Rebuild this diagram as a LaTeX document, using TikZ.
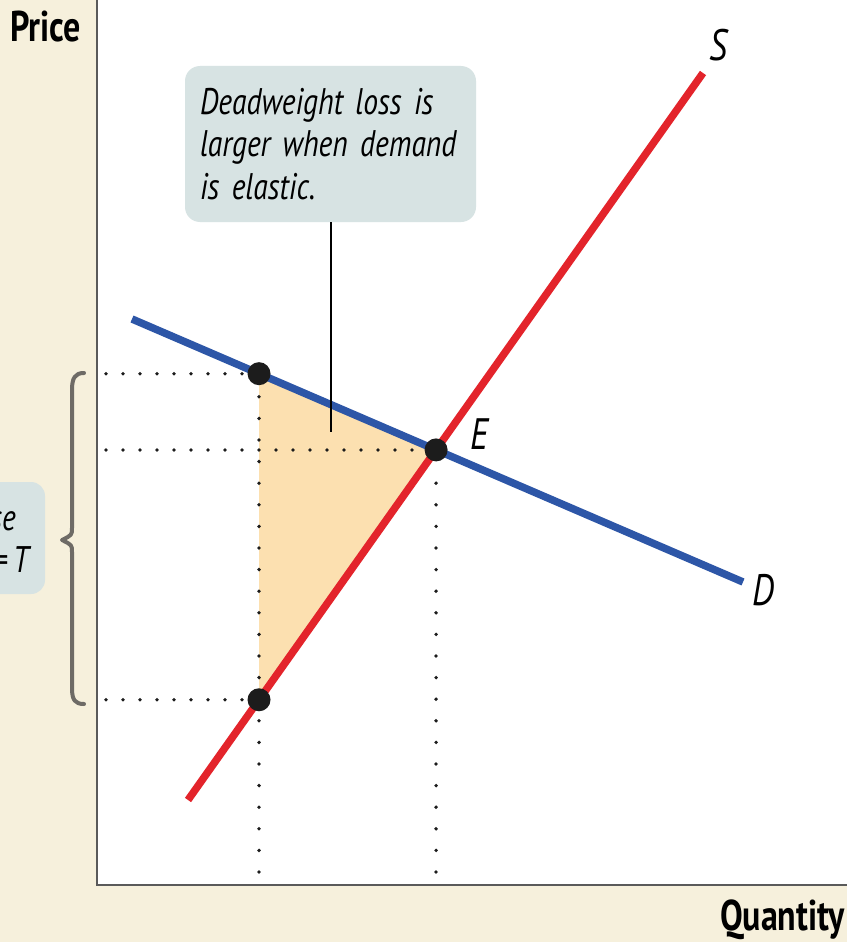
\documentclass[tikz,border=0pt]{standalone}
\usepackage{fontspec}
\newfontfamily\lblfont[FakeStretch=0.8,WordSpace=0.75]{PT Sans}
\newfontfamily\axfont[FakeStretch=0.79]{PT Sans}
\usetikzlibrary{calc}
\definecolor{cream}{HTML}{F6F0DC}
\definecolor{boxfill}{HTML}{D7E3E3}
\definecolor{dwl}{HTML}{FCE0B0}
\definecolor{supred}{HTML}{E3242B}
\definecolor{demblue}{HTML}{2D56A7}
\definecolor{bracegray}{HTML}{6E6B66}
\definecolor{axisgray}{HTML}{5A5A5A}
\definecolor{dotblack}{HTML}{1C1C1C}
\begin{document}
\begin{tikzpicture}[x=1pt,y=-1pt,
  curve/.style={line width=7.5pt},
  supply/.style={curve, draw=supred},
  demand/.style={curve, draw=demblue},
  hdots/.style={draw=dotblack, line width=3.8pt, line cap=round, dash pattern=on 0pt off 17pt},
  vdots/.style={draw=dotblack, line width=3.8pt, line cap=round, dash pattern=on 0pt off 21.6pt},
  eqpt/.style={circle, fill=dotblack, minimum size=23pt, inner sep=0pt},
  callout/.style={rounded corners=15pt, fill=boxfill, minimum width=291pt, minimum height=156pt,
    text width=261pt, inner xsep=15pt, align=left, font=\lblfont\itshape\fontsize{37}{42.5}\selectfont},
  tagtext/.style={inner sep=0pt, font=\lblfont\itshape\fontsize{37}{42.5}\selectfont},
  curvelbl/.style={inner sep=0pt, font=\lblfont\itshape\fontsize{44}{48}\selectfont},
  axlbl/.style={inner sep=0pt, font=\axfont\bfseries\fontsize{43}{48}\selectfont},
  pointer/.style={draw=black, line width=1.2pt},
  axis/.style={draw=axisgray, line width=2.2pt},
  brace/.style={draw=bracegray, line width=4pt, line cap=round, line join=round}
]
\useasboundingbox (0,0) rectangle (847,942);
\clip (0,0) rectangle (847,942);
\fill[cream] (0,0) rectangle (847,942);
\fill[white] (97,0) rectangle (847,884);

% partly visible tax box at the left
\fill[boxfill, rounded corners=14pt] (-80,482) rectangle (45,594);
\node[tagtext, anchor=base east] (ex1) at (16,530) {Excise};
\node[tagtext, anchor=base east] (ex2) at (29,572) {tax = \textit{T}};

% brace
\draw[brace] (84,373) .. controls (75,373) and (72,378) .. (72,390) -- (72,528)
  .. controls (72,535) .. (62,540) .. controls (72,545) .. (72,552) -- (72,688)
  .. controls (72,700) and (75,704) .. (84,704);

% curves geometry
\coordinate (d1) at (132,319);
\coordinate (d2) at (743,582);
\coordinate (s1) at (188,800);
\coordinate (s2) at (703,73);
\coordinate (E) at (intersection of d1--d2 and s1--s2);
\coordinate (A) at ($(d1)!0.2079!(d2)$);
\coordinate (B) at ($(s1)!0.1379!(s2)$);
\coordinate (xl) at (106,0);
\coordinate (xb) at (0,872);

% deadweight loss triangle
\fill[dwl] (A) -- (E) -- (B) -- cycle;

% dotted guides
\draw[hdots] (A -| xl) -- ($(A)+(-12,0)$);
\draw[hdots] (E -| xl) -- ($(E)+(-12,0)$);
\draw[hdots] (B -| xl) -- ($(B)+(-12,0)$);
\draw[vdots] (A |- xb) -- ($(A)+(0,12)$);
\draw[vdots] (E |- xb) -- ($(E)+(0,14)$);

% supply and demand
\draw[demand] (d1) -- (d2);
\draw[supply] (s1) -- (s2);

% points
\node[eqpt] (pA) at (A) {};
\node[eqpt] (pE) at (E) {};
\node[eqpt] (pB) at (B) {};

% callout
\node[callout] (note) at (330.5,144) {Deadweight loss is\\larger when demand\\is elastic.};
\coordinate (tipc) at (331,432);
\draw[pointer] (note.south -| tipc) -- (tipc);

% labels
\node[curvelbl] (Slbl) at (718,45) {S};
\node[curvelbl] (Dlbl) at (763,590) {D};
\node[curvelbl] (Elbl) at (479,434) {E};

% axes
\draw[axis] (97,0) -- (97,885) -- (847,885);
\node[axlbl, anchor=base west] (price) at (10,42) {Price};
\node[axlbl, anchor=base east] (qty) at (845,930) {Quantity};
\end{tikzpicture}
\end{document}
